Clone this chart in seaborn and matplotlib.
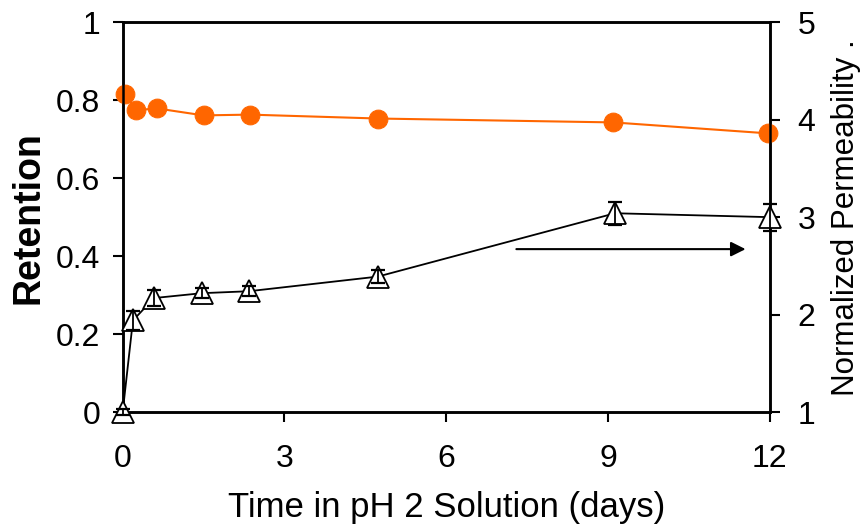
import matplotlib
matplotlib.use("Agg")
import matplotlib.pyplot as plt
import seaborn as sns
import pandas as pd

# ---- data ----
time_ret = [0.05, 0.24, 0.63, 1.5, 2.36, 4.73, 9.1, 11.96]
retention = [0.817, 0.774, 0.779, 0.761, 0.763, 0.753, 0.743, 0.715]

time_perm = [0.0, 0.19, 0.58, 1.47, 2.34, 4.73, 9.13, 12.0]
permeability = [1.0, 1.94, 2.17, 2.22, 2.24, 2.39, 3.04, 3.0]
perm_err = [0.03, 0.10, 0.08, 0.05, 0.05, 0.07, 0.12, 0.14]

x_ticks = [0, 3, 6, 9, 12]
left_ticks = [0, 0.2, 0.4, 0.6, 0.8, 1]
left_labels = ["0", "0.2", "0.4", "0.6", "0.8", "1"]
right_ticks = [1, 2, 3, 4, 5]

arrow_start = (7.3, 0.418)
arrow_end = (11.55, 0.418)

sns.set_style("ticks")
plt.rcParams['font.family'] = ['Liberation Sans', 'DejaVu Sans']
plt.rcParams['text.color'] = 'black'
plt.rcParams['axes.labelcolor'] = 'black'

df_ret = pd.DataFrame({"t": time_ret, "r": retention})
df_perm = pd.DataFrame({"t": time_perm, "p": permeability, "e": perm_err})

fig = plt.figure(figsize=(8.64, 5.29), dpi=100)
ax = fig.add_axes([0.142, 0.221, 0.749, 0.737])
ax2 = ax.twinx()

orange = "#FF6600"
sns.lineplot(data=df_ret, x="t", y="r", ax=ax, color=orange, linewidth=1.5,
             marker="o", markersize=13.5, markeredgecolor=orange,
             markerfacecolor=orange, zorder=3, clip_on=False)

sns.lineplot(data=df_perm, x="t", y="p", ax=ax2, color="black", linewidth=1.3,
             marker="^", markersize=16, markeredgecolor="black",
             markerfacecolor="white", markeredgewidth=1.3, zorder=3,
             clip_on=False)
ax2.errorbar(df_perm["t"], df_perm["p"], yerr=df_perm["e"], fmt="none",
             ecolor="black", elinewidth=1.3, capsize=5, capthick=1.6,
             zorder=4, clip_on=False)

ax.annotate("", xy=arrow_end, xytext=arrow_start, xycoords="data",
            arrowprops=dict(arrowstyle="-|>", color="black", lw=1.5,
                            mutation_scale=22, shrinkA=0, shrinkB=0))

ax.set_xlim(0, 12)
ax.set_ylim(0, 1)
ax2.set_ylim(1, 5)
ax.set_xticks(x_ticks)
ax.set_xticklabels([str(v) for v in x_ticks])
ax.set_yticks(left_ticks)
ax.set_yticklabels(left_labels)
ax2.set_yticks(right_ticks)
ax2.set_yticklabels([str(v) for v in right_ticks])

for a in (ax, ax2):
    for s in a.spines.values():
        s.set_visible(True)
        s.set_linewidth(1.8)
        s.set_color("black")
    a.tick_params(direction="out", length=7, width=1.5, labelsize=23,
                  colors="black", pad=9)
ax.tick_params(axis="x", pad=16)
ax2.tick_params(axis="y", pad=13)

ax.set_xlabel("Time in pH 2 Solution (days)", fontsize=25, labelpad=12,
              color="black")
ax.set_ylabel("Retention", fontsize=27, fontweight="bold", labelpad=7,
              color="black")
ax2.set_ylabel("Normalized Permeability .", fontsize=22.5, labelpad=11,
               color="black")

fig.savefig("out.png", dpi=100, facecolor="white")
